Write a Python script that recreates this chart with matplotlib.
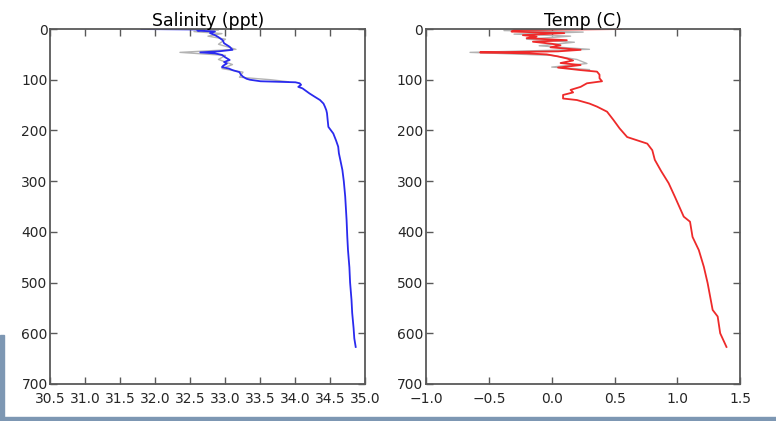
import matplotlib.pyplot as plt
from matplotlib.patches import Rectangle

# salinity profile (ppt) vs depth (m)
sal_depth = [0, 1, 3, 5, 8, 12, 16, 22, 28, 35, 41, 44, 46, 48, 51, 56, 61, 65, 68, 72,
             75, 78, 81, 85, 90, 94, 98, 100, 103, 105, 107, 110, 114, 117, 122, 127, 134,
             140, 147, 153, 160, 166, 180, 193, 206, 220, 232, 245, 258, 278, 300, 330,
             377, 410, 436, 470, 500, 534, 560, 590, 610, 627]
salinity = [31.8, 32.7, 32.6, 32.85, 32.78, 32.85, 32.9, 32.96, 32.98, 33.06, 33.1, 32.9,
            32.64, 32.85, 32.95, 33.0, 33.06, 32.98, 33.02, 32.97, 32.95, 33.05, 33.1,
            33.2, 33.22, 33.25, 33.3, 33.35, 33.5, 34.0, 34.06, 34.08, 34.04, 34.1, 34.15,
            34.2, 34.28, 34.35, 34.4, 34.42, 34.44, 34.45, 34.46, 34.47, 34.54, 34.58,
            34.61, 34.62, 34.64, 34.67, 34.69, 34.71, 34.73, 34.74, 34.75, 34.77, 34.78,
            34.8, 34.81, 34.83, 34.84, 34.86]

# temperature profile (C) vs depth (m)
temp_depth = [0, 2, 5, 8, 12, 15, 18, 22, 25, 29, 32, 36, 41, 44, 46, 48, 50, 54, 58,
              62, 67, 71, 76, 81, 84, 90, 97, 103, 107, 114, 120, 125, 130, 137, 140, 147,
              153, 163, 179, 196, 213, 226, 239, 258, 280, 304, 331, 370, 380, 410, 436,
              469, 501, 554, 567, 600, 627]
temp = [0.55, -0.3, -0.32, 0.1, -0.23, -0.12, -0.2, 0.12, -0.15, 0.0, 0.07, -0.01, 0.23,
        0.05, -0.57, -0.2, -0.04, 0.05, 0.12, 0.17, 0.07, 0.23, 0.05, 0.23, 0.36, 0.38,
        0.38, 0.4, 0.28, 0.23, 0.15, 0.17, 0.09, 0.09, 0.2, 0.3, 0.36, 0.44, 0.49, 0.54,
        0.6, 0.76, 0.8, 0.82, 0.87, 0.93, 0.98, 1.05, 1.1, 1.12, 1.17, 1.21, 1.24, 1.28,
        1.32, 1.34, 1.39]

# raw spikes (grey) around the noisy surface layer
sal_raw_depth = [0, 2, 5, 9, 14, 20, 30, 40, 46, 52, 60, 70, 78, 85, 95, 100, 104]
sal_raw = [32.5, 32.9, 32.55, 32.95, 32.75, 33.0, 32.9, 33.15, 32.35, 33.0, 32.9, 33.1,
           32.95, 33.25, 33.2, 33.65, 33.9]
temp_raw_depth = [0, 3, 6, 10, 14, 20, 26, 33, 40, 46, 52, 60, 68, 75, 80]
temp_raw = [0.2, -0.38, 0.25, -0.3, 0.15, -0.2, 0.18, -0.1, 0.3, -0.65, 0.0, 0.2, 0.28,
            0.0, 0.3]

sal_ticks = [30.5 + 0.5 * i for i in range(10)]
temp_ticks = [-1.0, -0.5, 0.0, 0.5, 1.0, 1.5]
depth_ticks = [0, 100, 200, 300, 400, 500, 600, 700]

plt.rcParams['font.family'] = 'DejaVu Sans'
fig = plt.figure(figsize=(7.76, 4.21), dpi=100)

# screenshot border
fig.patches.append(Rectangle((0, 0), 1, 4 / 421, transform=fig.transFigure,
                             color='#7d97b3', zorder=-1))
fig.patches.append(Rectangle((0, 0), 4 / 776, 86 / 421, transform=fig.transFigure,
                             color='#7d97b3', zorder=-1))

ax1 = fig.add_axes([0.065, 0.088, 0.406, 0.843])
ax2 = fig.add_axes([0.549, 0.088, 0.405, 0.843])

ax1.plot(sal_raw, sal_raw_depth, color='0.7', lw=1)
ax1.plot(salinity, sal_depth, color='#2a2aee', lw=1.3)
ax1.set_xlim(30.5, 35.0)
ax1.set_xticks(sal_ticks)
ax1.set_xticklabels(['%.1f' % t for t in sal_ticks])
ax1.set_title('Salinity (ppt)', fontsize=12.5, pad=2)

ax2.plot(temp_raw, temp_raw_depth, color='0.7', lw=1)
ax2.plot(temp, temp_depth, color='#ee2a2a', lw=1.3)
ax2.set_xlim(-1.0, 1.5)
ax2.set_xticks(temp_ticks)
ax2.set_xticklabels(['\u2212%.1f' % -t if t < 0 else '%.1f' % t for t in temp_ticks])
ax2.set_title('Temp (C)', fontsize=12.5, pad=2)

for ax in (ax1, ax2):
    ax.set_ylim(700, 0)
    ax.set_yticks(depth_ticks)
    ax.tick_params(direction='in', top=True, right=True, length=5, width=1,
                   color='0.35', labelsize=10, pad=2, labelcolor='0.15')
    ax.tick_params(axis='x', pad=6)
    for s in ax.spines.values():
        s.set_color('0.35')
        s.set_linewidth(1.3)

fig.savefig('out.png', dpi=100)
